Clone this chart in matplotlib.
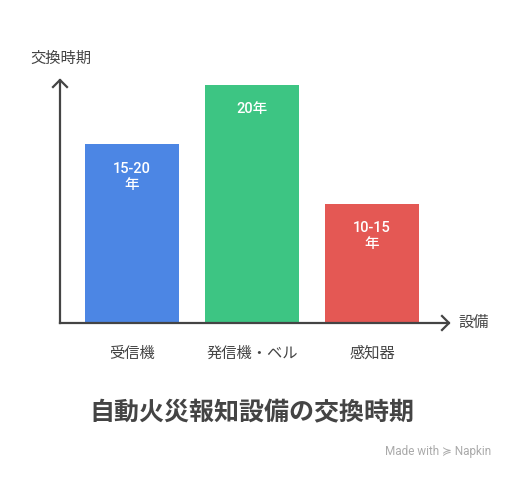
import matplotlib
matplotlib.use('Agg')
import matplotlib.pyplot as plt

plt.rcParams['font.family'] = ['Roboto', 'Noto Sans CJK JP', 'DejaVu Sans']

# equipment, replacement period (years, lower bound drawn), bar labels
equipment = ['受信機', '発信機・ベル', '感知器']
years = [15, 20, 10]
labels = ['15-20\n年', '20年', '10-15\n年']
colors = ['#4C86E4', '#3DC583', '#E45854']

AXIS = '#444444'
W, H = 516, 480

fig = plt.figure(figsize=(W / 100, H / 100), dpi=100)
fig.patch.set_facecolor('white')

# axes box in pixels: x 60..449, y 80..323 (from top)
ax = fig.add_axes([60 / W, (H - 323) / H, (449 - 60) / W, (323 - 80) / H])
ax.set_xlim(-0.6, 2.642)
ax.set_ylim(0, 20.42)
ax.axis('off')

ax.bar(range(len(equipment)), years, width=0.783, color=colors, zorder=2)

for i, (v, lab) in enumerate(zip(years, labels)):
    ax.annotate(lab, (i, v), xytext=(0, -12.5), textcoords='offset points',
                ha='center', va='top', color='white', fontsize=10.5,
                fontweight='medium', linespacing=1.15)
    ax.annotate(equipment[i], (i, 0), xytext=(0, -22), textcoords='offset points',
                ha='center', va='center', color=AXIS, fontsize=11)

# axis lines with open arrow heads
lw = 1.6
ax.plot([0, 0], [0, 1], transform=ax.transAxes, color=AXIS, lw=lw,
        clip_on=False, solid_capstyle='projecting')
ax.plot([0, 1], [0, 0], transform=ax.transAxes, color=AXIS, lw=lw,
        clip_on=False, solid_capstyle='projecting')
dxw, dyh = 7 / 389, 7 / 243
ax.plot([-dxw, 0, dxw], [1 - dyh, 1, 1 - dyh], transform=ax.transAxes,
        color=AXIS, lw=lw, clip_on=False)
ax.plot([1 - dxw, 1, 1 - dxw], [dyh, 0, -dyh], transform=ax.transAxes,
        color=AXIS, lw=lw, clip_on=False)

fig.text(30 / W, 1 - 59 / H, '交換時期', ha='left', va='center',
         color=AXIS, fontsize=11)
fig.text(458 / W, 1 - 323 / H, '設備', ha='left', va='center',
         color=AXIS, fontsize=11)

fig.text(252 / W, 1 - 413 / H, '自動火災報知設備の交換時期', ha='center',
         va='center', color=AXIS, fontsize=18, fontweight='bold')

fig.text(491 / W, 1 - 452 / H, 'Made with ≽ Napkin', ha='right', va='center',
         color='#AAAAAA', fontsize=8.5,
         family=['Roboto', 'DejaVu Sans'])

fig.savefig('out.png', dpi=100)
